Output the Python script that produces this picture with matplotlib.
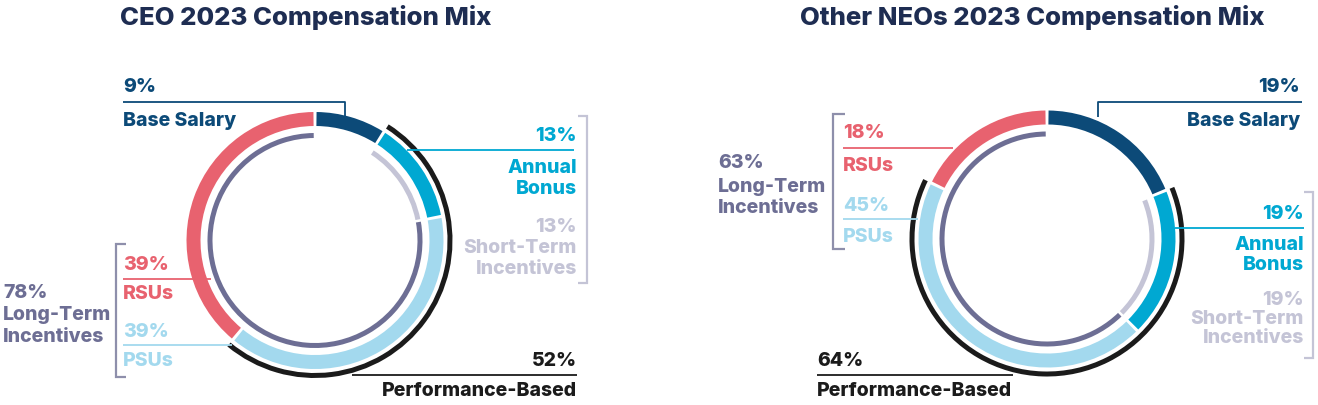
import numpy as np
import matplotlib
matplotlib.use("Agg")
import matplotlib.pyplot as plt
from matplotlib.patches import Wedge

plt.rcParams["font.family"] = ["Inter", "DejaVu Sans"]
plt.rcParams["font.weight"] = "bold"

# ---- data ----
titles = ["CEO 2023 Compensation Mix", "Other NEOs 2023 Compensation Mix"]
segments = ["Base Salary", "Annual Bonus", "PSUs", "RSUs"]
ceo_mix = [9, 13, 39, 39]
neo_mix = [19, 19, 45, 18]
ceo_short, ceo_long, ceo_perf = 13, 78, 52
neo_short, neo_long, neo_perf = 19, 63, 64

# colours
NAVY = "#0c4a78"
CYAN = "#00a8d2"
LBLUE = "#a3d9ee"
RED = "#e8626f"
SLATE = "#6d6e94"
LGRAY = "#c4c4d6"
BLACK = "#1b1b1b"
TITLE = "#1e2d52"
seg_colors = [NAVY, CYAN, LBLUE, RED]

WT = 800

fig = plt.figure(figsize=(13.18, 4.06), dpi=100)
ax = fig.add_axes([0, 0, 1, 1])
ax.set_xlim(0, 1318)
ax.set_ylim(406, 0)
ax.set_aspect("equal")
ax.axis("off")

R_MID, W_MID = 128.5, 14
R_IN, W_IN = 107.5, 5
R_OUT, W_OUT = 137.5, 5
GAP = 0.7  # degrees trimmed each side


def arc(cx, cy, r, w, f0, f1, color, gap=GAP):
    # fractions measured clockwise from 12 o'clock (y axis is flipped)
    t0 = -90 + 360 * f0 + gap
    t1 = -90 + 360 * f1 - gap
    ax.add_patch(Wedge((cx, cy), r, t0, t1, width=w, facecolor=color,
                       edgecolor="none"))


def donut(cx, cy, mix, short, long, perf):
    total = float(sum(mix))
    cum = np.concatenate([[0], np.cumsum(mix)]) / total
    for i, c in enumerate(seg_colors):
        arc(cx, cy, R_MID, W_MID, cum[i], cum[i + 1], c)
    # inner ring: short-term over the bonus, long-term over the LTI
    arc(cx, cy, R_IN, W_IN, cum[1], cum[1] + short / total, LGRAY)
    arc(cx, cy, R_IN, W_IN, 1 - long / total, 1.0, SLATE)
    # outer thin ring: performance based
    arc(cx, cy, R_OUT, W_OUT, cum[1], cum[1] + perf / total, BLACK, gap=0)


def line(xs, ys, color):
    ax.plot(xs, ys, color=color, lw=1.3, solid_capstyle="butt")


def bracket(x, y0, y1, dx, color):
    ax.plot([x + dx, x, x, x + dx], [y0, y0, y1, y1], color=color, lw=1.6,
            solid_capstyle="butt", solid_joinstyle="miter")


FS = 14


def txt(x, y, s, color, ha="left", fs=FS):
    ax.text(x, y, s, color=color, ha=ha, va="center", fontsize=fs,
            fontweight=WT, linespacing=0.95)


# ---- titles ----
ax.text(306, 18, titles[0], color=TITLE, ha="center", va="center",
        fontsize=18.5, fontweight=WT)
ax.text(1032, 18, titles[1], color=TITLE, ha="center", va="center",
        fontsize=18.5, fontweight=WT)

# ---- CEO chart ----
cx1, cy1 = 315, 241.5
donut(cx1, cy1, ceo_mix, ceo_short, ceo_long, ceo_perf)

txt(123, 87, f"{ceo_mix[0]}%", NAVY)
line([123, 345, 345], [103, 103, 118], NAVY)
txt(123, 121, segments[0], NAVY)

txt(577, 136, f"{ceo_mix[1]}%", CYAN, ha="right")
line([407, 574], [151, 151], CYAN)
txt(577, 168, "Annual", CYAN, ha="right")
txt(577, 189, "Bonus", CYAN, ha="right")

bracket(587, 117, 284, -9, LGRAY)
txt(577, 227, f"{ceo_short}%", LGRAY, ha="right")
txt(577, 248, "Short-Term", LGRAY, ha="right")
txt(577, 269, "Incentives", LGRAY, ha="right")

bracket(116, 245, 378, 10, "#8e8fab")
txt(3, 293, f"{ceo_long}%", SLATE)
txt(3, 315, "Long-Term", SLATE)
txt(3, 337, "Incentives", SLATE)

txt(123, 265, f"{ceo_mix[3]}%", RED)
line([123, 211], [280, 280], RED)
txt(123, 294, segments[3], RED)

txt(123, 332, f"{ceo_mix[2]}%", LBLUE)
line([123, 232], [346, 346], LBLUE)
txt(123, 361, segments[2], LBLUE)

txt(577, 361, f"{ceo_perf}%", BLACK, ha="right")
line([352, 577], [376, 376], BLACK)
txt(577, 391, "Performance-Based", BLACK, ha="right")

# ---- Other NEOs chart ----
cx2, cy2 = 1047, 240
donut(cx2, cy2, neo_mix, neo_short, neo_long, neo_perf)

txt(1300, 87, f"{neo_mix[0]}%", NAVY, ha="right")
line([1098, 1098, 1302], [118, 103, 103], NAVY)
txt(1300, 121, segments[0], NAVY, ha="right")

txt(1304, 214, f"{neo_mix[1]}%", CYAN, ha="right")
line([1175, 1304], [229, 229], CYAN)
txt(1304, 245, "Annual", CYAN, ha="right")
txt(1304, 265, "Bonus", CYAN, ha="right")

bracket(1313, 193, 359, -9, LGRAY)
txt(1304, 300, f"{neo_short}%", LGRAY, ha="right")
txt(1304, 319, "Short-Term", LGRAY, ha="right")
txt(1304, 338, "Incentives", LGRAY, ha="right")

bracket(833, 115, 250, 12, "#8e8fab")
txt(718, 163, f"{neo_long}%", SLATE)
txt(718, 187, "Long-Term", SLATE)
txt(718, 208, "Incentives", SLATE)

txt(843, 133, f"{neo_mix[3]}%", RED)
line([843, 953], [149, 149], RED)
txt(843, 166, segments[3], RED)

txt(843, 206, f"{neo_mix[2]}%", LBLUE)
line([843, 918], [220, 220], LBLUE)
txt(843, 237, segments[2], LBLUE)

txt(817, 361, f"{neo_perf}%", BLACK)
line([817, 1013], [376, 376], BLACK)
txt(817, 391, "Performance-Based", BLACK)

fig.savefig("out.png", dpi=100)
